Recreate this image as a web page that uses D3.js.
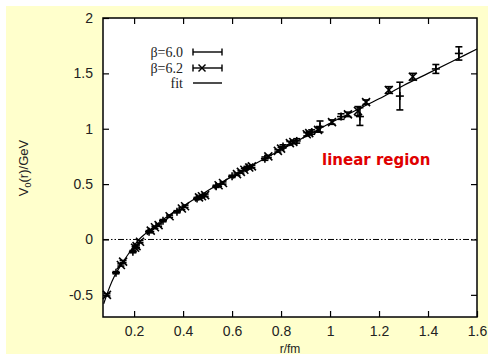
<!DOCTYPE html>
<html>
<head>
<meta charset="utf-8">
<script src="https://cdn.jsdelivr.net/npm/d3@7/dist/d3.min.js"></script>
<style>
  html, body { margin: 0; padding: 0; background: #fff; }
  svg { display: block; }
</style>
</head>
<body>
<svg id="chart" width="492" height="356"></svg>
<script>
// ---- data ----
const xTicks = [0.2, 0.4, 0.6, 0.8, 1.0, 1.2, 1.4, 1.6];
const xTickLabels = ["0.2", "0.4", "0.6", "0.8", "1", "1.2", "1.4", "1.6"];
const yTicks = [-0.5, 0, 0.5, 1, 1.5, 2];
const yTickLabels = ["-0.5", "0", "0.5", "1", "1.5", "2"];

// beta = 6.0  (+ symbols)
const r60 = [0.126, 0.195, 0.261, 0.318, 0.375, 0.457, 0.535, 0.600, 0.661, 0.734, 0.808, 0.864, 0.925, 0.959, 1.045, 1.122, 1.285, 1.432, 1.526];
const v60 = [-0.30, -0.11, 0.07, 0.17, 0.25, 0.37, 0.48, 0.57, 0.65, 0.73, 0.84, 0.89, 0.97, 1.02, 1.11, 1.11, 1.295, 1.54, 1.68];
const e60 = [0.01, 0.01, 0.01, 0.01, 0.01, 0.01, 0.01, 0.01, 0.01, 0.015, 0.015, 0.02, 0.02, 0.05, 0.025, 0.08, 0.125, 0.04, 0.06];

// beta = 6.2  (x symbols)
const r62 = [0.089, 0.146, 0.155, 0.204, 0.210, 0.224, 0.268, 0.285, 0.300, 0.345, 0.395, 0.408, 0.465, 0.477, 0.490, 0.545, 0.563, 0.620, 0.636, 0.650, 0.670, 0.681, 0.748, 0.787, 0.800, 0.836, 0.850, 0.905, 0.915, 0.951, 1.008, 1.073, 1.114, 1.147, 1.240, 1.338];
const v62 = [-0.50, -0.23, -0.20, -0.075, -0.06, -0.02, 0.08, 0.11, 0.13, 0.21, 0.28, 0.30, 0.38, 0.39, 0.40, 0.49, 0.51, 0.59, 0.61, 0.63, 0.65, 0.66, 0.75, 0.80, 0.82, 0.87, 0.88, 0.95, 0.96, 0.99, 1.06, 1.13, 1.16, 1.24, 1.35, 1.47];
const e62 = [0.01, 0.01, 0.01, 0.01, 0.01, 0.01, 0.01, 0.01, 0.01, 0.01, 0.01, 0.01, 0.01, 0.01, 0.01, 0.01, 0.01, 0.01, 0.01, 0.01, 0.01, 0.01, 0.01, 0.01, 0.01, 0.015, 0.015, 0.015, 0.015, 0.02, 0.02, 0.02, 0.04, 0.02, 0.03, 0.03];

// fit curve, points
const rFit = [0.076, 0.09, 0.10, 0.12, 0.15, 0.18, 0.22, 0.25, 0.30, 0.35, 0.40, 0.50, 0.60, 0.70, 0.80, 0.90, 1.00, 1.10, 1.20, 1.30, 1.40, 1.50, 1.60];
const vFit = [-0.58, -0.49, -0.43, -0.33, -0.22, -0.12, 0.0, 0.06, 0.15, 0.23, 0.30, 0.44, 0.57, 0.69, 0.81, 0.93, 1.05, 1.16, 1.27, 1.39, 1.50, 1.61, 1.72];

const legendLabels = ["\u03B2=6.0", "\u03B2=6.2", "fit"];

// ---- drawing ----
const svg = d3.select("#chart");
const L = 103, R = 477, T = 18, B = 317;

svg.append("rect").attr("x", 6).attr("y", 6).attr("width", 482).attr("height", 348)
   .attr("fill", "#ffffcc");
svg.append("rect").attr("x", L).attr("y", T).attr("width", R - L).attr("height", B - T)
   .attr("fill", "#fff");

const x = d3.scaleLinear().domain([0.073, 1.6]).range([L, R]);
const y = d3.scaleLinear().domain([-0.7, 2]).range([B, T]);

const font = "'Liberation Sans', Arial, Helvetica, sans-serif";
const tickLen = 6;

const axB = svg.append("g").attr("transform", `translate(0,${B})`)
  .call(d3.axisBottom(x).tickValues(xTicks).tickSize(-tickLen).tickPadding(9)
        .tickFormat((d, i) => xTickLabels[i]));
const axT = svg.append("g").attr("transform", `translate(0,${T})`)
  .call(d3.axisTop(x).tickValues(xTicks.filter(d => d < 1.6)).tickSize(-tickLen).tickFormat(""));
const axL = svg.append("g").attr("transform", `translate(${L},0)`)
  .call(d3.axisLeft(y).tickValues(yTicks).tickSize(-tickLen).tickPadding(10)
        .tickFormat((d, i) => yTickLabels[i]));
const axR = svg.append("g").attr("transform", `translate(${R},0)`)
  .call(d3.axisRight(y).tickValues(yTicks.filter(d => d < 2)).tickSize(-tickLen).tickFormat(""));

[axB, axT, axL, axR].forEach(g => {
  g.select(".domain").remove();
  g.selectAll(".tick line").attr("stroke", "#000").attr("stroke-width", 1.2);
  g.selectAll("text").attr("font-family", font).attr("font-size", 14).attr("fill", "#222");
});

// zero line (dash-dot-dot)
svg.append("line").attr("x1", L).attr("x2", R).attr("y1", y(0)).attr("y2", y(0))
   .attr("stroke", "#000").attr("stroke-width", 1).attr("stroke-dasharray", "6,2,1.5,2,1.5,2");

// fit curve
const fitData = rFit.map((r, i) => [r, vFit[i]]);
svg.append("path").datum(fitData)
   .attr("d", d3.line().x(d => x(d[0])).y(d => y(d[1])).curve(d3.curveMonotoneX))
   .attr("fill", "none").attr("stroke", "#000").attr("stroke-width", 1.2);

function drawSeries(rs, vs, es, sym) {
  const g = svg.append("g").attr("stroke", "#000").attr("stroke-width", 1.6).attr("fill", "none");
  rs.forEach((r, i) => {
    const cx = x(r), cy = y(vs[i]);
    const y1 = y(vs[i] + es[i]), y2 = y(vs[i] - es[i]);
    const cap = 3.5;
    g.append("line").attr("x1", cx).attr("x2", cx).attr("y1", y1).attr("y2", y2);
    g.append("line").attr("x1", cx - cap).attr("x2", cx + cap).attr("y1", y1).attr("y2", y1);
    g.append("line").attr("x1", cx - cap).attr("x2", cx + cap).attr("y1", y2).attr("y2", y2);
    const s = 4;
    if (sym === "plus") {
      g.append("line").attr("x1", cx - s).attr("x2", cx + s).attr("y1", cy).attr("y2", cy);
      g.append("line").attr("x1", cx).attr("x2", cx).attr("y1", cy - s).attr("y2", cy + s);
    } else {
      g.append("line").attr("x1", cx - s).attr("x2", cx + s).attr("y1", cy - s).attr("y2", cy + s);
      g.append("line").attr("x1", cx - s).attr("x2", cx + s).attr("y1", cy + s).attr("y2", cy - s);
    }
  });
}
drawSeries(r60, v60, e60, "plus");
drawSeries(r62, v62, e62, "cross");

// frame
svg.append("rect").attr("x", L).attr("y", T).attr("width", R - L).attr("height", B - T)
   .attr("fill", "none").attr("stroke", "#000").attr("stroke-width", 1.5);

// legend
const lg = svg.append("g");
const ly = [52, 68, 83];
const lx1 = 193, lx2 = 222;
legendLabels.forEach((t, i) => {
  lg.append("text").attr("x", 183).attr("y", ly[i] + 5).attr("text-anchor", "end")
    .attr("font-family", "'Liberation Serif', 'Times New Roman', serif").attr("font-size", 14)
    .attr("fill", "#222").text(t);
  lg.append("line").attr("x1", lx1).attr("x2", lx2).attr("y1", ly[i]).attr("y2", ly[i])
    .attr("stroke", "#000").attr("stroke-width", 1.4);
  if (i < 2) {
    [lx1, lx2].forEach(xx => lg.append("line").attr("x1", xx).attr("x2", xx)
      .attr("y1", ly[i] - 3.5).attr("y2", ly[i] + 3.5).attr("stroke", "#000").attr("stroke-width", 1.4));
  }
  if (i === 1) {
    const cx = 202, cy = ly[i], s = 3.5;
    lg.append("line").attr("x1", cx - s).attr("x2", cx + s).attr("y1", cy - s).attr("y2", cy + s)
      .attr("stroke", "#000").attr("stroke-width", 1.4);
    lg.append("line").attr("x1", cx - s).attr("x2", cx + s).attr("y1", cy + s).attr("y2", cy - s)
      .attr("stroke", "#000").attr("stroke-width", 1.4);
  }
});

// axis titles
svg.append("text").attr("x", 290).attr("y", 353).attr("text-anchor", "middle")
   .attr("font-family", font).attr("font-size", 12).attr("fill", "#222").text("r/fm");
const yl = svg.append("text").attr("transform", "translate(28,168) rotate(-90)")
   .attr("text-anchor", "middle").attr("font-family", font).attr("font-size", 13).attr("fill", "#222");
yl.append("tspan").text("V");
yl.append("tspan").attr("font-size", 9).attr("dy", 3).text("0");
yl.append("tspan").attr("dy", -3).text("(r)/GeV");

// annotation
svg.append("text").attr("x", 322).attr("y", 165)
   .attr("font-family", "'DejaVu Sans', sans-serif").attr("font-weight", "bold").attr("font-size", 15)
   .attr("fill", "#e00000").text("linear region");
</script>
</body>
</html>
